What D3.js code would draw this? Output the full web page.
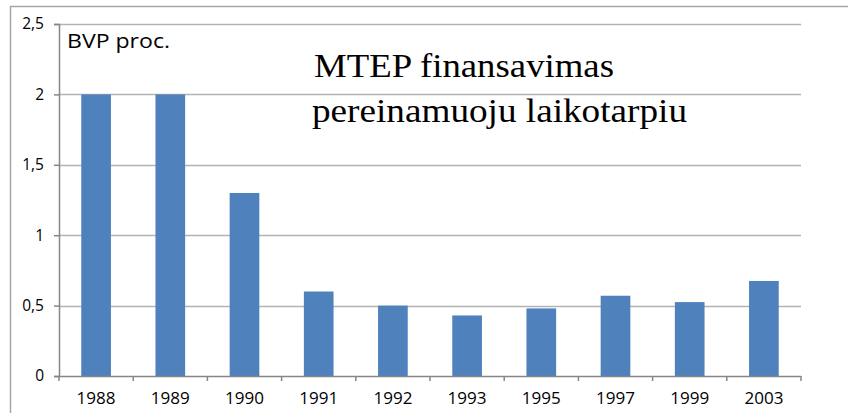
<!DOCTYPE html>
<html>
<head>
<meta charset="utf-8">
<title>MTEP finansavimas</title>
<script src="https://cdnjs.cloudflare.com/ajax/libs/d3/7.8.5/d3.min.js"></script>
<style>
  body { margin: 0; background: #fff; }
</style>
</head>
<body>
<script>
  var years = ["1988", "1989", "1990", "1991", "1992", "1993", "1995", "1997", "1999", "2003"];
  var values = [2, 2, 1.3, 0.6, 0.5, 0.43, 0.48, 0.57, 0.525, 0.675];
  var yTicks = [0, 0.5, 1, 1.5, 2, 2.5];
  var yTickLabels = ["0", "0,5", "1", "1,5", "2", "2,5"];
  var unitLabel = "BVP proc.";
  var titleLines = ["MTEP finansavimas", "pereinamuoju laikotarpiu"];

  (function(){
  var svg = d3.select("body").append("svg")
    .attr("width", 848)
    .attr("height", 413);

  // outer chart frame (runs off the right and bottom edges)
  svg.append("rect")
    .attr("x", 10.5).attr("y", 6.5)
    .attr("width", 900).attr("height", 500)
    .attr("fill", "none")
    .attr("stroke", "#a6a6a6")
    .attr("stroke-width", 1.5);

  var pLeft = 59, pRight = 801, pTop = 24, pBottom = 376;

  var x = d3.scaleBand().domain(years).range([pLeft, pRight]).paddingInner(0.6).paddingOuter(0.3);
  var y = d3.scaleLinear().domain([0, 2.5]).range([pBottom, pTop]);

  // gridlines
  svg.append("g").selectAll("line")
    .data(yTicks.filter(function(d){ return d > 0; }))
    .enter().append("line")
    .attr("x1", pLeft).attr("x2", pRight)
    .attr("y1", function(d){ return Math.round(y(d)) + 0.5; })
    .attr("y2", function(d){ return Math.round(y(d)) + 0.5; })
    .attr("stroke", "#b3b3b3")
    .attr("stroke-width", 1.5);

  // bars
  svg.append("g").selectAll("rect")
    .data(values)
    .enter().append("rect")
    .attr("x", function(d, i){ return x(years[i]); })
    .attr("width", x.bandwidth())
    .attr("y", function(d){ return y(d); })
    .attr("height", function(d){ return pBottom - y(d); })
    .attr("fill", "#4f81bd");

  // y axis
  var yAxis = d3.axisLeft(y)
    .tickValues(yTicks)
    .tickSize(5)
    .tickPadding(10)
    .tickFormat(function(d, i){ return yTickLabels[i]; });
  var gy = svg.append("g")
    .attr("transform", "translate(" + pLeft + ",0)")
    .call(yAxis);
  gy.select(".domain").attr("stroke", "#868686").attr("stroke-width", 1.5);
  gy.selectAll(".tick line").attr("stroke", "#868686").attr("stroke-width", 1.5);
  gy.selectAll("text")
    .attr("font-family", "'Open Sans', sans-serif")
    .attr("font-size", 15.5)
    .attr("fill", "#000");

  // x axis, ticks at band boundaries
  var step = (pRight - pLeft) / years.length;
  var gx = svg.append("g");
  gx.append("line")
    .attr("x1", pLeft).attr("x2", pRight)
    .attr("y1", pBottom + 0.5).attr("y2", pBottom + 0.5)
    .attr("stroke", "#868686").attr("stroke-width", 1.5);
  gx.selectAll("line.tk")
    .data(d3.range(years.length + 1))
    .enter().append("line")
    .attr("class", "tk")
    .attr("x1", function(i){ return pLeft + i * step; })
    .attr("x2", function(i){ return pLeft + i * step; })
    .attr("y1", pBottom).attr("y2", pBottom + 5)
    .attr("stroke", "#868686").attr("stroke-width", 1.5);
  gx.selectAll("text")
    .data(years)
    .enter().append("text")
    .attr("x", function(d){ return x(d) + x.bandwidth() / 2; })
    .attr("y", 404)
    .attr("text-anchor", "middle")
    .attr("font-family", "'Open Sans', sans-serif")
    .attr("font-size", 15.5)
    .attr("textLength", 39)
    .attr("lengthAdjust", "spacingAndGlyphs")
    .attr("fill", "#000")
    .text(function(d){ return d; });

  svg.append("text")
    .attr("x", 67).attr("y", 48)
    .attr("font-family", "'Open Sans', sans-serif")
    .attr("font-size", 19.5)
    .attr("textLength", 103)
    .attr("lengthAdjust", "spacingAndGlyphs")
    .attr("fill", "#000")
    .text(unitLabel);

  var titleWidths = [300, 375];
  svg.append("g").selectAll("text")
    .data(titleLines)
    .enter().append("text")
    .attr("x", function(d, i){ return i === 0 ? 314 : 312; })
    .attr("y", function(d, i){ return 77 + i * 45; })
    .attr("font-family", "'Liberation Serif', serif")
    .attr("font-size", 33)
    .attr("textLength", function(d, i){ return titleWidths[i]; })
    .attr("lengthAdjust", "spacingAndGlyphs")
    .attr("fill", "#000")
    .text(function(d){ return d; });
  })();
</script>
</body>
</html>
